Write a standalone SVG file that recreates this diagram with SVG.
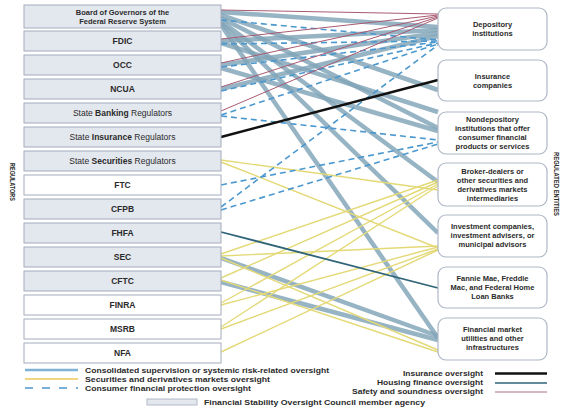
<svg xmlns="http://www.w3.org/2000/svg" width="561" height="413" viewBox="0 0 561 413">
<style>
text{font-family:"Liberation Sans",Arial,sans-serif;fill:#2b2b2b}
.reg{fill:#e3e7ee;stroke:#a3abbb;stroke-width:1}
.regw{fill:#ffffff;stroke:#a3abbb;stroke-width:1}
.ent{fill:#ffffff;stroke:#aeb7c6;stroke-width:1.2}
.lt{font-size:8.5px;text-anchor:middle;font-weight:bold}
.ln{font-size:8.5px;text-anchor:middle}
.et{font-size:7.5px;text-anchor:middle;font-weight:bold}
.lg{font-size:8px;font-weight:bold}
.side{font-size:6.5px;font-weight:bold;text-anchor:middle}
.cs{stroke:#80a4b7;stroke-width:4.5;fill:none;stroke-opacity:0.82}
.sd{stroke:#e4d977;stroke-width:1.4;fill:none}
.cp{stroke:#4b98cf;stroke-width:1.6;fill:none;stroke-dasharray:6 4}
.io{stroke:#111111;stroke-width:2.4;fill:none}
.hf{stroke:#2f6478;stroke-width:1.8;fill:none}
.ss{stroke:#a85a72;stroke-width:1;fill:none}
</style>
<g id="connectors">
<line class="cs" x1="221" y1="12" x2="438" y2="27"/>
<line class="cs" x1="221" y1="15" x2="438" y2="90"/>
<line class="cs" x1="221" y1="18" x2="438" y2="128"/>
<line class="cs" x1="221" y1="21" x2="438" y2="182"/>
<line class="cs" x1="221" y1="23" x2="438" y2="233"/>
<line class="cs" x1="221" y1="25" x2="438" y2="338"/>
<line class="cs" x1="221" y1="41" x2="438" y2="30"/>
<line class="cs" x1="221" y1="43" x2="438" y2="112"/>
<line class="cs" x1="221" y1="65" x2="438" y2="33"/>
<line class="cs" x1="221" y1="68" x2="438" y2="131"/>
<line class="cs" x1="221" y1="89" x2="438" y2="36"/>
<line class="cs" x1="221" y1="258" x2="438" y2="336"/>
<line class="cs" x1="221" y1="282" x2="438" y2="340"/>
<line class="sd" x1="221" y1="160" x2="438" y2="190"/>
<line class="sd" x1="221" y1="162" x2="438" y2="248"/>
<line class="sd" x1="221" y1="254" x2="438" y2="180"/>
<line class="sd" x1="221" y1="256" x2="438" y2="246"/>
<line class="sd" x1="221" y1="258" x2="438" y2="350"/>
<line class="sd" x1="221" y1="278" x2="438" y2="182"/>
<line class="sd" x1="221" y1="280" x2="438" y2="352"/>
<line class="sd" x1="221" y1="303" x2="438" y2="184"/>
<line class="sd" x1="221" y1="305" x2="438" y2="247"/>
<line class="sd" x1="221" y1="327" x2="438" y2="186"/>
<line class="sd" x1="221" y1="329" x2="438" y2="249"/>
<line class="sd" x1="221" y1="352" x2="438" y2="250"/>
<line class="cp" x1="221" y1="20" x2="438" y2="40"/>
<line class="cp" x1="221" y1="44" x2="438" y2="41"/>
<line class="cp" x1="221" y1="67" x2="438" y2="42"/>
<line class="cp" x1="221" y1="91" x2="438" y2="43"/>
<line class="cp" x1="221" y1="115" x2="438" y2="44"/>
<line class="cp" x1="221" y1="207" x2="438" y2="45"/>
<line class="cp" x1="221" y1="116" x2="438" y2="140"/>
<line class="cp" x1="221" y1="185" x2="438" y2="142"/>
<line class="cp" x1="221" y1="210" x2="438" y2="144"/>
<line class="io" x1="221" y1="137" x2="438" y2="80"/>
<line class="hf" x1="221" y1="232" x2="438" y2="288"/>
<line class="ss" x1="221" y1="10" x2="438" y2="14"/>
<line class="ss" x1="221" y1="39" x2="438" y2="15"/>
<line class="ss" x1="221" y1="63" x2="438" y2="16"/>
<line class="ss" x1="221" y1="87" x2="438" y2="17"/>
<line class="ss" x1="221" y1="111" x2="438" y2="18"/>
</g>
<g id="board"><rect class="reg" x="24" y="5" width="197" height="23"/><text class="et" x="122.5" y="14.5">Board of Governors of the</text><text class="et" x="122.5" y="23.5">Federal Reserve System</text></g>
<g id="fdic"><rect class="reg" x="24" y="31" width="197" height="20"/><text class="lt" x="122.5" y="44">FDIC</text></g>
<g id="occ"><rect class="reg" x="24" y="55" width="197" height="20"/><text class="lt" x="122.5" y="68">OCC</text></g>
<g id="ncua"><rect class="reg" x="24" y="79" width="197" height="20"/><text class="lt" x="122.5" y="92">NCUA</text></g>
<g id="state-banking"><rect class="reg" x="24" y="103" width="197" height="20"/><text class="ln" x="122.5" y="116">State <tspan font-weight="bold">Banking</tspan> Regulators</text></g>
<g id="state-insurance"><rect class="reg" x="24" y="127" width="197" height="20"/><text class="ln" x="122.5" y="140">State <tspan font-weight="bold">Insurance</tspan> Regulators</text></g>
<g id="state-securities"><rect class="reg" x="24" y="151" width="197" height="20"/><text class="ln" x="122.5" y="164">State <tspan font-weight="bold">Securities</tspan> Regulators</text></g>
<g id="ftc"><rect class="regw" x="24" y="175" width="197" height="20"/><text class="lt" x="122.5" y="188">FTC</text></g>
<g id="cfpb"><rect class="reg" x="24" y="199" width="197" height="20"/><text class="lt" x="122.5" y="212">CFPB</text></g>
<g id="fhfa"><rect class="reg" x="24" y="223" width="197" height="20"/><text class="lt" x="122.5" y="236">FHFA</text></g>
<g id="sec"><rect class="reg" x="24" y="247" width="197" height="20"/><text class="lt" x="122.5" y="260">SEC</text></g>
<g id="cftc"><rect class="reg" x="24" y="271" width="197" height="20"/><text class="lt" x="122.5" y="284">CFTC</text></g>
<g id="finra"><rect class="regw" x="24" y="295" width="197" height="20"/><text class="lt" x="122.5" y="308">FINRA</text></g>
<g id="msrb"><rect class="regw" x="24" y="319" width="197" height="20"/><text class="lt" x="122.5" y="332">MSRB</text></g>
<g id="nfa"><rect class="regw" x="24" y="343" width="197" height="20"/><text class="lt" x="122.5" y="356">NFA</text></g>
<g id="depository"><rect class="ent" x="438" y="8" width="109" height="42" rx="8"/><text class="et" x="492.5" y="27">Depository</text><text class="et" x="492.5" y="36">institutions</text></g>
<g id="insurance"><rect class="ent" x="438" y="60" width="109" height="41" rx="8"/><text class="et" x="492.5" y="78.5">Insurance</text><text class="et" x="492.5" y="87.5">companies</text></g>
<g id="nondepository"><rect class="ent" x="438" y="112" width="109" height="42" rx="8"/><text class="et" x="492.5" y="122">Nondepository</text><text class="et" x="492.5" y="131">institutions that offer</text><text class="et" x="492.5" y="140">consumer financial</text><text class="et" x="492.5" y="149">products or services</text></g>
<g id="broker-dealers"><rect class="ent" x="438" y="163" width="109" height="43" rx="8"/><text class="et" x="492.5" y="173.5">Broker-dealers or</text><text class="et" x="492.5" y="182.5">other securities and</text><text class="et" x="492.5" y="191.5">derivatives markets</text><text class="et" x="492.5" y="200.5">intermediaries</text></g>
<g id="investment"><rect class="ent" x="438" y="215" width="109" height="42" rx="8"/><text class="et" x="492.5" y="229">Investment companies,</text><text class="et" x="492.5" y="238">investment advisers, or</text><text class="et" x="492.5" y="247">municipal advisors</text></g>
<g id="housing-gse"><rect class="ent" x="438" y="267" width="109" height="41" rx="8"/><text class="et" x="492.5" y="280.5">Fannie Mae, Freddie</text><text class="et" x="492.5" y="289.5">Mac, and Federal Home</text><text class="et" x="492.5" y="298.5">Loan Banks</text></g>
<g id="fmu"><rect class="ent" x="438" y="318" width="109" height="42" rx="8"/><text class="et" x="492.5" y="332">Financial market</text><text class="et" x="492.5" y="341">utilities and other</text><text class="et" x="492.5" y="350">infrastructures</text></g>
<text class="side" transform="translate(10,182) rotate(90)" textLength="38" lengthAdjust="spacingAndGlyphs">REGULATORS</text>
<text class="side" transform="translate(554,184) rotate(90)" textLength="64" lengthAdjust="spacingAndGlyphs">REGULATED ENTITIES</text>
<g id="legend">
<line x1="25" y1="370" x2="78" y2="370" stroke="#7fb3d5" stroke-width="2.6"/>
<text class="lg" x="85" y="372.8" textLength="244" lengthAdjust="spacingAndGlyphs">Consolidated supervision or systemic risk-related oversight</text>
<line x1="25" y1="379" x2="78" y2="379" stroke="#e8c85a" stroke-width="1.6"/>
<text class="lg" x="85" y="381.8" textLength="185" lengthAdjust="spacingAndGlyphs">Securities and derivatives markets oversight</text>
<line x1="25" y1="388" x2="78" y2="388" stroke="#4b98cf" stroke-width="1.6" stroke-dasharray="8 9"/>
<text class="lg" x="85" y="390.8" textLength="166" lengthAdjust="spacingAndGlyphs">Consumer financial protection oversight</text>
<rect x="147" y="399" width="50" height="6" fill="#e3e7ee" stroke="#a3abbb" stroke-width="0.8"/>
<text class="lg" x="204" y="405" textLength="221" lengthAdjust="spacingAndGlyphs">Financial Stability Oversight Council member agency</text>
<text class="lg" x="483" y="375.8" text-anchor="end" textLength="80" lengthAdjust="spacingAndGlyphs">Insurance oversight</text>
<line x1="495" y1="373.5" x2="547" y2="373.5" stroke="#111" stroke-width="2.4"/>
<text class="lg" x="483" y="384.8" text-anchor="end" textLength="106" lengthAdjust="spacingAndGlyphs">Housing finance oversight</text>
<line x1="495" y1="383" x2="547" y2="383" stroke="#2f6478" stroke-width="1.6"/>
<text class="lg" x="483" y="393.8" text-anchor="end" textLength="131" lengthAdjust="spacingAndGlyphs">Safety and soundness oversight</text>
<line x1="495" y1="392" x2="547" y2="392" stroke="#a85a72" stroke-width="0.9"/>
</g>
</svg>
